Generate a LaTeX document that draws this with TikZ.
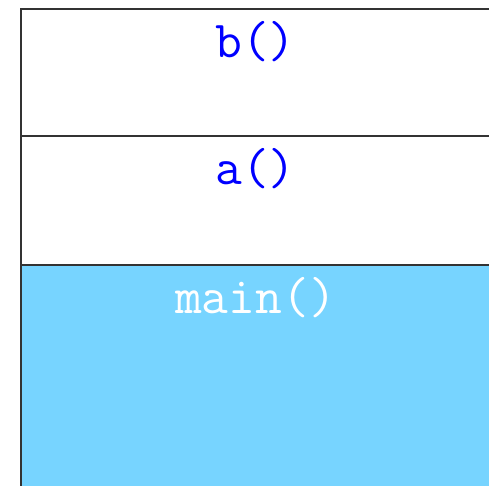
\documentclass[tikz,border=0pt]{standalone}
\usepackage{fontspec}
\usetikzlibrary{positioning}
\definecolor{framefill}{RGB}{119,212,255}
\definecolor{framecol}{RGB}{51,51,51}
\definecolor{callblue}{RGB}{0,0,255}
\tikzset{
  frame/.style={draw=framecol,line width=2pt,minimum width=480pt,inner sep=0pt,
                anchor=north west},
  fname/.style={font=\fontsize{52}{52}\selectfont\ttfamily,anchor=base,inner sep=0pt},
}
\begin{document}
\begin{tikzpicture}[x=1pt,y=-1pt]
  \useasboundingbox (0,0) rectangle (489,485);
  \clip (0,0) rectangle (489,485);
  % stack frames, bottom first
  \node[frame,fill=framefill,minimum height=240pt] (fmain) at (20,264) {};
  \node[frame,minimum height=129pt] (fa) at (20,135) {};
  \node[frame,minimum height=127pt] (fb) at (20,8) {};
  % frame names
  \node[fname,text=callblue] (tb) at ([yshift=-49pt]fb.north -| 255.5,0) {b()};
  \node[fname,text=callblue] (ta) at ([yshift=-49pt]fa.north -| 255.5,0) {a()};
  \node[fname,text=white] (tmain) at ([yshift=-49pt]fmain.north -| 255.5,0) {main()};
\end{tikzpicture}
\end{document}
